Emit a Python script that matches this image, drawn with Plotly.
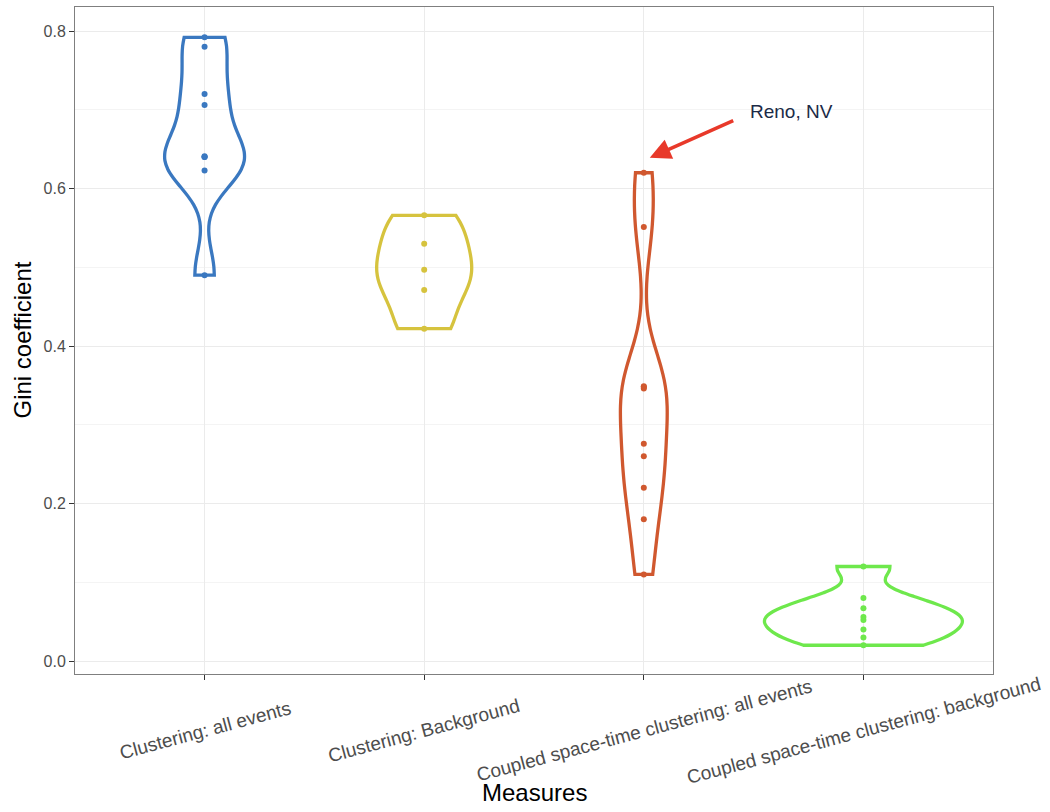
import numpy as np
import plotly.graph_objects as go

# Gini coefficients per measure
categories = [
    "Clustering: all events",
    "Clustering: Background",
    "Coupled space-time clustering: all events",
    "Coupled space-time clustering: background",
]
gini_clust_all = [0.792, 0.780, 0.720, 0.706, 0.641, 0.640, 0.640, 0.623, 0.490]
gini_clust_bg = [0.566, 0.530, 0.497, 0.471, 0.422]
gini_st_all = [0.620, 0.551, 0.349, 0.348, 0.346, 0.276, 0.260, 0.220, 0.180, 0.110]
gini_st_bg = [0.120, 0.080, 0.067, 0.056, 0.052, 0.040, 0.030, 0.020]
series = [gini_clust_all, gini_clust_bg, gini_st_all, gini_st_bg]

colors = ["#3A78C0", "#D6C33E", "#D0582F", "#6EE84C"]

# annotation for the highest coupled space-time value
reno_label = "Reno, NV"
reno_value = max(gini_st_all)


def nrd0(values):
    """Silverman-style bandwidth (R's bw.nrd0)."""
    v = np.asarray(values, dtype=float)
    sd = v.std(ddof=1)
    iqr = np.percentile(v, 75) - np.percentile(v, 25)
    lo = min(sd, iqr / 1.34) if iqr > 0 else sd
    return 0.9 * lo * len(v) ** (-0.2)


def max_density(values, bw):
    """Peak of the Gaussian KDE over the sample range."""
    v = np.asarray(values, dtype=float)
    grid = np.linspace(v.min(), v.max(), 512)
    u = (grid[:, None] - v[None, :]) / bw
    dens = np.exp(-0.5 * u ** 2).sum(axis=1) / (len(v) * bw * np.sqrt(2 * np.pi))
    return dens.max()


# equal-area scaling: the widest violin spans 0.9 of a category slot
bandwidths = [nrd0(v) for v in series]
peaks = [max_density(v, bw) for v, bw in zip(series, bandwidths)]
widths = [0.9 * p / max(peaks) for p in peaks]

fig = go.Figure()
for cat, vals, col, bw, w in zip(categories, series, colors, bandwidths, widths):
    fig.add_trace(go.Violin(
        x=[cat] * len(vals),
        y=vals,
        name=cat,
        bandwidth=bw,
        spanmode="hard",
        scalemode="width",
        scalegroup=cat,
        width=w,
        line=dict(color=col, width=3.3),
        fillcolor="rgba(255,255,255,0)",
        points="all",
        pointpos=0,
        jitter=0,
        marker=dict(color=col, size=6),
        box_visible=False,
        meanline_visible=False,
        hoveron="points",
        showlegend=False,
    ))

font_family = "Liberation Sans, Arial, sans-serif"
ytick_font = dict(family=font_family, size=16, color="#4D4D4D")
xtick_font = dict(family=font_family, size=19, color="#4D4D4D")
title_font = dict(family=font_family, size=24, color="#000000")

annotations = []
# rotated category labels under the x axis
for cat in categories:
    annotations.append(dict(
        x=cat, y=-0.084, xref="x", yref="paper",
        text=cat, showarrow=False, textangle=-15,
        xanchor="center", yanchor="middle", font=xtick_font,
    ))

annotations += [
    dict(x=0.5, y=-0.1784, xref="paper", yref="paper", text="Measures",
         showarrow=False, xanchor="center", yanchor="middle", font=title_font),
    dict(x=-0.0577, y=0.5, xref="paper", yref="paper", text="Gini coefficient",
         showarrow=False, textangle=-90, xanchor="center", yanchor="middle",
         font=title_font),
    # arrow pointing at the top of the coupled space-time violin
    dict(x=2.027, y=reno_value + 0.019, xref="x", yref="y",
         ax=2.414, ay=0.687, axref="x", ayref="y",
         text="", showarrow=True, arrowhead=2, arrowsize=1.2,
         arrowwidth=3.5, arrowcolor="#E8392A"),
    dict(x=2.674, y=0.698, xref="x", yref="y", text=reno_label,
         showarrow=False, xanchor="center", yanchor="middle",
         font=dict(family=font_family, size=19, color="#1B2A47")),
]

fig.update_layout(
    width=1050, height=812,
    margin=dict(l=75, r=57, t=7, b=138),
    plot_bgcolor="white", paper_bgcolor="white",
    violinmode="overlay",
    annotations=annotations,
    xaxis=dict(
        type="category", categoryorder="array", categoryarray=categories,
        range=[-0.59, 3.59], showticklabels=False,
        ticks="outside", ticklen=5, tickcolor="#333333",
        showgrid=True, gridcolor="#EBEBEB", gridwidth=1,
        showline=True, mirror=True, linecolor="#7F7F7F", linewidth=1,
        zeroline=False,
    ),
    yaxis=dict(
        range=[-0.0165, 0.8305],
        tickvals=[0.0, 0.2, 0.4, 0.6, 0.8], tickformat=".1f",
        ticks="outside", ticklen=5, tickcolor="#333333",
        tickfont=ytick_font,
        showgrid=True, gridcolor="#EBEBEB", gridwidth=1,
        minor=dict(tickvals=[0.1, 0.3, 0.5, 0.7], showgrid=True,
                   gridcolor="#F4F4F4", gridwidth=1, ticks=""),
        showline=True, mirror=True, linecolor="#7F7F7F", linewidth=1,
        zeroline=False,
    ),
)

fig.write_html("out.html")
